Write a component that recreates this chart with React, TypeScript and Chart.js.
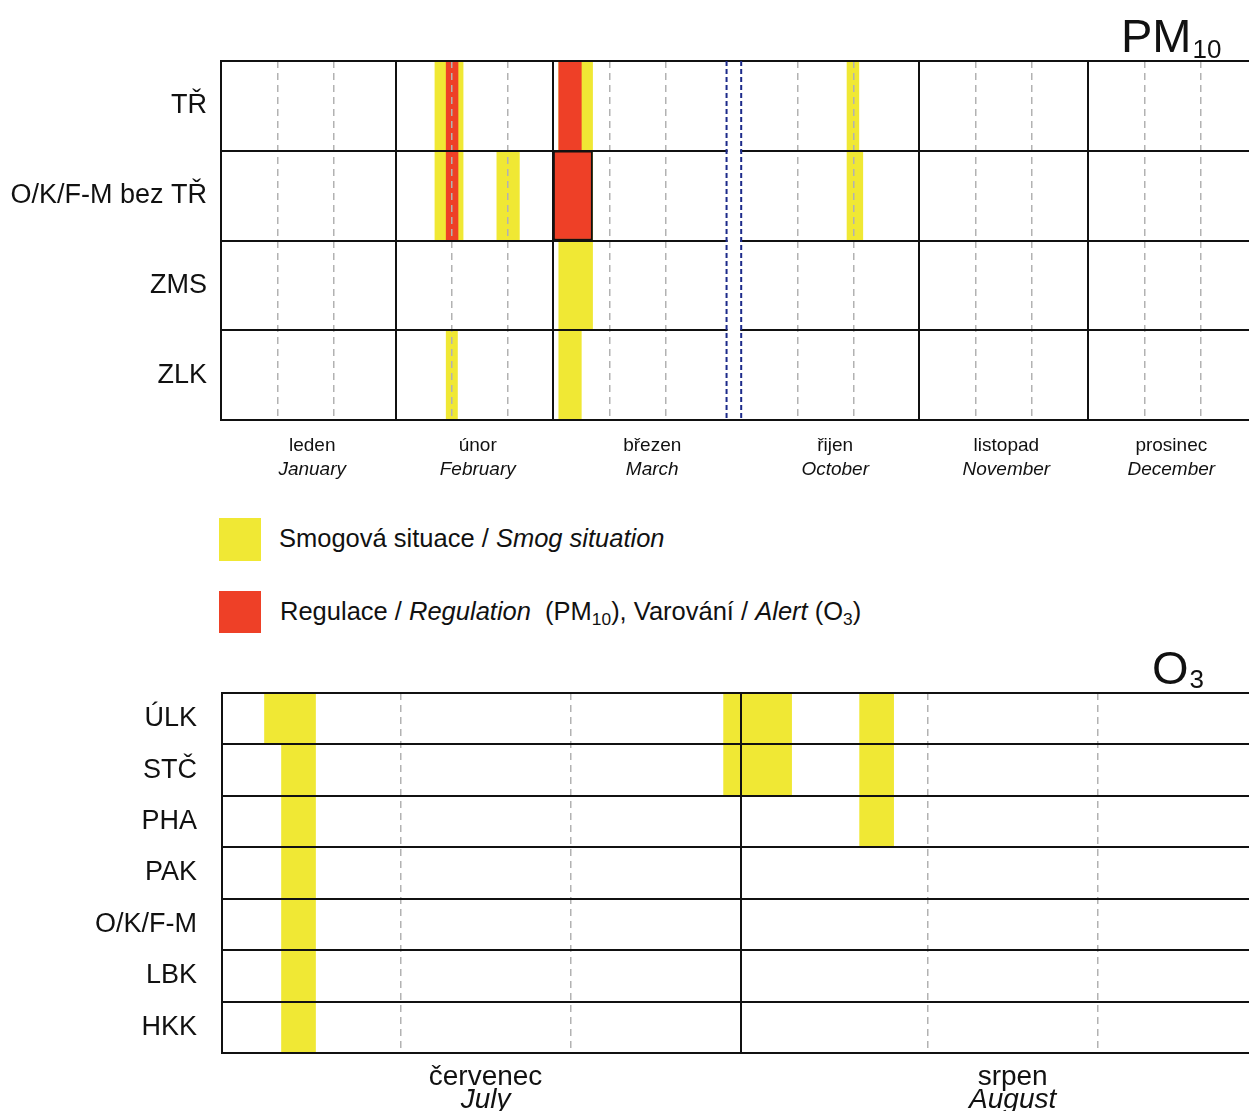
import React, { useEffect, useRef } from 'react';
import { Chart, registerables } from 'chart.js';

Chart.register(...registerables);

const FONT = '"Liberation Sans", Arial, Helvetica, sans-serif';
const YELLOW = '#F0E834';
const RED = '#EE4027';
const INK = '#111111';
const GRID_GRAY = '#b2b2b2';

// ---------------- PM10 panel ----------------
// x axis unit: day counted from 1 January; October–December follow an axis break
const pmRows = ['TŘ', 'O/K/F-M bez TŘ', 'ZMS', 'ZLK'];
const pmAxisMax = 182.6;
const pmMonthStarts = [31, 59, 124, 154];
const pmDecadeTicks = [10, 20, 41, 51, 69, 79, 102.4, 112.4, 134, 144, 164, 174];
const pmBreak = [89.8, 92.4];
const pmMonthsCz = ['leden', 'únor', 'březen', 'řijen', 'listopad', 'prosinec'];
const pmMonthsEn = ['January', 'February', 'March', 'October', 'November', 'December'];
const pmMonthLabelPos = [16.2, 45.6, 76.6, 109.1, 139.5, 168.8];
// [row, start, end]
const pmSmog: [string, number, number][] = [
  ['TŘ', 38, 43],
  ['TŘ', 60, 66],
  ['TŘ', 111.2, 113.3],
  ['O/K/F-M bez TŘ', 38, 43],
  ['O/K/F-M bez TŘ', 49, 53],
  ['O/K/F-M bez TŘ', 59, 66],
  ['O/K/F-M bez TŘ', 111.2, 114],
  ['ZMS', 60, 66],
  ['ZLK', 40, 42],
  ['ZLK', 60, 64],
];
const pmRegulation: [string, number, number][] = [
  ['TŘ', 40, 42.1],
  ['TŘ', 60, 64],
  ['O/K/F-M bez TŘ', 40, 42.1],
  ['O/K/F-M bez TŘ', 59, 66],
];

// ---------------- O3 panel ----------------
// x axis unit: day counted from 1 July (0 = start of 1 July)
const o3Rows = ['ÚLK', 'STČ', 'PHA', 'PAK', 'O/K/F-M', 'LBK', 'HKK'];
const o3AxisMin = 0.5;
const o3AxisMax = 60.9;
const o3MonthStarts = [31];
const o3DecadeTicks = [11, 21, 42, 52];
const o3MonthsCz = ['červenec', 'srpen'];
const o3MonthsEn = ['July', 'August'];
const o3MonthLabelPos = [16, 47];
const o3Smog: [string, number, number][] = [
  ['ÚLK', 3, 6],
  ['ÚLK', 30, 34],
  ['ÚLK', 38, 40],
  ['STČ', 4, 6],
  ['STČ', 30, 34],
  ['STČ', 38, 40],
  ['PHA', 4, 6],
  ['PHA', 38, 40],
  ['PAK', 4, 6],
  ['O/K/F-M', 4, 6],
  ['LBK', 4, 6],
  ['HKK', 4, 6],
];

const toBars = (list: [string, number, number][]) => list.map(([r, s, e]) => ({ y: r, x: [s, e] }));

function monthLabelPlugin(cz: string[], en: string[], pos: number[], yCz: number, yEn: number, size: number) {
  return {
    id: 'monthLabels',
    afterDraw(chart: any) {
      const { ctx } = chart;
      const x = chart.scales.x;
      ctx.save();
      ctx.fillStyle = INK;
      ctx.textAlign = 'center';
      ctx.textBaseline = 'alphabetic';
      pos.forEach((p, i) => {
        const px = x.getPixelForValue(p);
        ctx.font = `${size}px ${FONT}`;
        ctx.fillText(cz[i], px, yCz);
        ctx.font = `italic ${size}px ${FONT}`;
        ctx.fillText(en[i], px, yEn);
      });
      ctx.restore();
    },
  };
}

function titlePlugin(main: string, sub: string, x: number, y: number, subDy: number) {
  return {
    id: 'panelTitle',
    afterDraw(chart: any) {
      const { ctx } = chart;
      ctx.save();
      ctx.fillStyle = INK;
      ctx.textAlign = 'left';
      ctx.textBaseline = 'alphabetic';
      ctx.font = `47px ${FONT}`;
      ctx.fillText(main, x, y);
      const w = ctx.measureText(main).width;
      ctx.font = `26px ${FONT}`;
      ctx.fillText(sub, x + w + 1, y + subDy);
      ctx.restore();
    },
  };
}

const breakPlugin = {
  id: 'axisBreak',
  afterDraw(chart: any) {
    const { ctx, chartArea } = chart;
    const x = chart.scales.x;
    const x1 = x.getPixelForValue(pmBreak[0]);
    const x2 = x.getPixelForValue(pmBreak[1]);
    ctx.save();
    ctx.fillStyle = '#ffffff';
    ctx.fillRect(x1 + 1, chartArea.top + 2, x2 - x1 - 2, chartArea.bottom - chartArea.top - 4);
    ctx.strokeStyle = '#1c2a8a';
    ctx.lineWidth = 2;
    ctx.setLineDash([5, 3]);
    [x1, x2].forEach((px) => {
      ctx.beginPath();
      ctx.moveTo(px, chartArea.top);
      ctx.lineTo(px, chartArea.bottom);
      ctx.stroke();
    });
    ctx.restore();
  },
};

function xScaleOptions(min: number, max: number, monthStarts: number[], decades: number[], height: number) {
  const isMonth = (v: any) => monthStarts.includes(v);
  return {
    type: 'linear',
    min,
    max,
    afterBuildTicks: (s: any) => {
      s.ticks = [...monthStarts, ...decades].map((v) => ({ value: v }));
    },
    afterFit: (s: any) => {
      s.height = height;
    },
    ticks: { display: false },
    grid: {
      z: 1,
      drawTicks: false,
      color: (c: any) => (c.tick && isMonth(c.tick.value) ? INK : GRID_GRAY),
      lineWidth: (c: any) => (c.tick && isMonth(c.tick.value) ? 2 : 1.5),
    },
    border: {
      display: false,
      z: 1,
      dash: (c: any) => (c.tick && !isMonth(c.tick.value) ? [7, 5] : []),
    },
  };
}

function yScaleOptions(width: number, padding: number) {
  return {
    type: 'category',
    offset: true,
    afterFit: (s: any) => {
      s.width = width;
    },
    grid: { offset: true, z: 1, color: INK, lineWidth: 2, drawTicks: false },
    border: { display: true, color: INK, width: 2, z: 1 },
    ticks: { color: INK, font: { family: FONT, size: 27 }, padding, autoSkip: false },
  };
}

const barCommon = {
  grouped: false,
  barPercentage: 1,
  categoryPercentage: 1,
  borderSkipped: false,
};

export default function App() {
  const pmRef = useRef<HTMLCanvasElement | null>(null);
  const o3Ref = useRef<HTMLCanvasElement | null>(null);

  useEffect(() => {
    const pmChart = new Chart(pmRef.current as HTMLCanvasElement, {
      type: 'bar',
      data: {
        labels: pmRows,
        datasets: [
          {
            label: 'Regulace',
            data: toBars(pmRegulation) as any,
            backgroundColor: RED,
            borderColor: INK,
            borderWidth: (c: any) => (c.raw && c.raw.x && c.raw.x[0] === pmMonthStarts[1] ? 2 : 0),
            order: 0,
            ...barCommon,
          } as any,
          {
            label: 'Smogová situace',
            data: toBars(pmSmog) as any,
            backgroundColor: YELLOW,
            borderWidth: 0,
            order: 1,
            ...barCommon,
          } as any,
        ],
      },
      options: {
        indexAxis: 'y',
        animation: false,
        responsive: false,
        devicePixelRatio: 1,
        layout: { padding: { top: 61, left: 0, right: 0, bottom: 0 } },
        plugins: { legend: { display: false }, tooltip: { enabled: false } },
        scales: {
          x: xScaleOptions(0, pmAxisMax, pmMonthStarts, pmDecadeTicks, 80) as any,
          y: yScaleOptions(221, 14) as any,
        },
      },
      plugins: [
        breakPlugin,
        monthLabelPlugin(pmMonthsCz, pmMonthsEn, pmMonthLabelPos, 451, 475, 19),
        titlePlugin('PM', '10', 1121, 52, 6),
      ],
    } as any);

    const o3Chart = new Chart(o3Ref.current as HTMLCanvasElement, {
      type: 'bar',
      data: {
        labels: o3Rows,
        datasets: [
          {
            label: 'Smogová situace',
            data: toBars(o3Smog) as any,
            backgroundColor: YELLOW,
            borderWidth: 0,
            ...barCommon,
          } as any,
        ],
      },
      options: {
        indexAxis: 'y',
        animation: false,
        responsive: false,
        devicePixelRatio: 1,
        layout: { padding: { top: 53, left: 0, right: 0, bottom: 0 } },
        plugins: { legend: { display: false }, tooltip: { enabled: false } },
        scales: {
          x: xScaleOptions(o3AxisMin, o3AxisMax, o3MonthStarts, o3DecadeTicks, 58) as any,
          y: yScaleOptions(222, 25) as any,
        },
      },
      plugins: [
        monthLabelPlugin(o3MonthsCz, o3MonthsEn, o3MonthLabelPos, 445, 468, 28),
        titlePlugin('O', '3', 1152, 44, 4),
      ],
    } as any);

    return () => {
      pmChart.destroy();
      o3Chart.destroy();
    };
  }, []);

  const legendText: React.CSSProperties = {
    position: 'absolute',
    fontFamily: FONT,
    fontSize: '25.5px',
    lineHeight: '32px',
    color: INK,
    whiteSpace: 'nowrap',
  };
  const subStyle: React.CSSProperties = { fontSize: '0.68em', verticalAlign: '-0.28em', lineHeight: 0 };

  return (
    <div
      style={{
        position: 'absolute',
        left: 0,
        top: 0,
        width: 1249,
        height: 1111,
        overflow: 'hidden',
        background: '#ffffff',
      }}
    >
      <canvas ref={pmRef} width={1249} height={500} style={{ position: 'absolute', left: 0, top: 0 }} />
      <canvas ref={o3Ref} width={1249} height={471} style={{ position: 'absolute', left: 0, top: 640 }} />
      <div style={{ position: 'absolute', left: 219, top: 518, width: 42, height: 43, background: YELLOW }} />
      <div style={{ ...legendText, left: 279, top: 522 }}>
        Smogová situace / <i>Smog situation</i>
      </div>
      <div style={{ position: 'absolute', left: 219, top: 591, width: 42, height: 42, background: RED }} />
      <div style={{ ...legendText, left: 280, top: 595 }}>
        Regulace / <i>Regulation</i>
        {'\u00a0\u00a0'}(PM<sub style={subStyle}>10</sub>), Varování / <i>Alert</i> (O<sub style={subStyle}>3</sub>)
      </div>
    </div>
  );
}
